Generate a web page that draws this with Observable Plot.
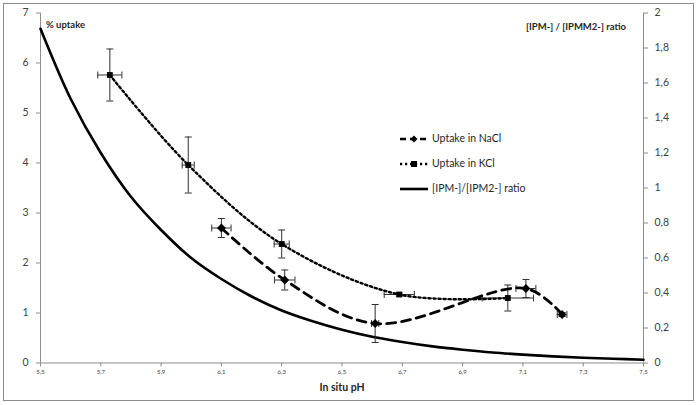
<!DOCTYPE html>
<html>
<head>
<meta charset="utf-8">
<script src="https://cdn.jsdelivr.net/npm/d3@7"></script>
<script src="https://cdn.jsdelivr.net/npm/@observablehq/plot@0.6"></script>
<style>
  html, body { margin: 0; padding: 0; background: #fff; }
  #wrap { position: relative; width: 698px; height: 405px; font-family: Lato, "Open Sans", sans-serif; color: #262626; }
  #wrap svg { position: absolute; left: 0; top: 0; }
  .border { position: absolute; left: 3px; top: 3px; width: 691px; height: 398px; border: 1px solid #8c8c8c; box-sizing: border-box; pointer-events: none; }
  .lbl { position: absolute; font-weight: bold; white-space: nowrap; line-height: 1; }
  .legend { position: absolute; left: 400px; top: 126px; font-size: 10.5px; line-height: 1; }
  .legend .row { display: flex; align-items: center; height: 25px; }
  .legend svg { position: static !important; margin-right: 4px; }
</style>
</head>
<body>
<div id="wrap">
  <div class="border"></div>
  <div class="lbl" style="left:46px; top:20px; font-size:9.5px;">% uptake</div>
  <div class="lbl" style="right:72px; top:22px; font-size:9.5px;">[IPM-] / [IPMM2-] ratio</div>
  <div class="lbl" style="left:342px; top:382px; font-size:10.5px; transform:translateX(-50%);">In situ pH</div>
  <div class="legend" id="legend"></div>
</div>
<script>
// ---- data ----
const naclPH     = [6.10, 6.31, 6.61, 7.11, 7.23];
const naclUptake = [2.70, 1.66, 0.79, 1.49, 0.97];
const naclErrY   = [0.19, 0.20, 0.38, 0.18, 0.04];
const naclErrX   = [0.032, 0.034, 0.012, 0.033, 0.016];

const kclPH      = [5.73, 5.99, 6.30, 6.69, 7.05];
const kclUptake  = [5.76, 3.96, 2.38, 1.37, 1.30];
const kclErrY    = [0.52, 0.56, 0.28, 0.03, 0.26];
const kclErrX    = [0.040, 0.020, 0.025, 0.050, 0.085];

const ratioPH    = [5.5, 5.6, 5.7, 5.8, 5.9, 6.0, 6.1, 6.2, 6.3, 6.4, 6.5, 6.6, 6.7, 6.8, 6.9, 7.0, 7.1, 7.2, 7.3, 7.4, 7.5];
const ratioValue = [1.91, 1.51, 1.20, 0.95, 0.76, 0.60, 0.48, 0.38, 0.30, 0.24, 0.19, 0.15, 0.12, 0.095, 0.076, 0.060, 0.048, 0.038, 0.030, 0.024, 0.019];

const xDomain    = [5.5, 7.5];
const xTicks     = [5.5, 5.7, 5.9, 6.1, 6.3, 6.5, 6.7, 6.9, 7.1, 7.3, 7.5];
const yDomain    = [0, 7];
const yTicks     = [0, 1, 2, 3, 4, 5, 6, 7];
const rDomain    = [0, 2];
const rTicks     = [0, 0.2, 0.4, 0.6, 0.8, 1, 1.2, 1.4, 1.6, 1.8, 2];

const legendItems = ["Uptake in NaCl", "Uptake in KCl", "[IPM-]/[IPM2-] ratio"];

// ---- build ----
const k = yDomain[1] / rDomain[1];
const comma = d => d3.format(".1~f")(d).replace(".", ",");

const nacl = naclPH.map((p, i) => ({ph: p, u: naclUptake[i], ey: naclErrY[i], ex: naclErrX[i]}));
const kcl  = kclPH.map((p, i) => ({ph: p, u: kclUptake[i], ey: kclErrY[i], ex: kclErrX[i]}));
const ratio = ratioPH.map((p, i) => ({ph: p, r: ratioValue[i] * k}));

const capH = {draw(ctx, size) { const r = Math.sqrt(size / Math.PI); ctx.moveTo(-r, 0); ctx.lineTo(r, 0); }};
const capV = {draw(ctx, size) { const r = Math.sqrt(size / Math.PI); ctx.moveTo(0, -r); ctx.lineTo(0, r); }};

const errColor = "#303030";
function errMarks(data) {
  return [
    Plot.ruleX(data, {x: "ph", y1: d => d.u - d.ey, y2: d => d.u + d.ey, stroke: errColor, strokeWidth: 1}),
    Plot.ruleY(data, {y: "u", x1: d => d.ph - d.ex, x2: d => d.ph + d.ex, stroke: errColor, strokeWidth: 1}),
    Plot.dot(data, {x: "ph", y: d => d.u + d.ey, symbol: capH, r: 3.5, stroke: errColor, fill: "none", strokeWidth: 1}),
    Plot.dot(data, {x: "ph", y: d => d.u - d.ey, symbol: capH, r: 3.5, stroke: errColor, fill: "none", strokeWidth: 1}),
    Plot.dot(data, {x: d => d.ph + d.ex, y: "u", symbol: capV, r: 3.5, stroke: errColor, fill: "none", strokeWidth: 1}),
    Plot.dot(data, {x: d => d.ph - d.ex, y: "u", symbol: capV, r: 3.5, stroke: errColor, fill: "none", strokeWidth: 1})
  ];
}

const chart = Plot.plot({
  width: 698,
  height: 405,
  marginLeft: 40,
  marginRight: 55,
  marginTop: 12.5,
  marginBottom: 42.5,
  style: {fontFamily: "Lato, 'Open Sans', sans-serif", background: "transparent", color: "#404040"},
  x: {domain: xDomain},
  y: {domain: yDomain},
  marks: [
    Plot.ruleX([xDomain[0]], {stroke: "#8c8c8c"}),
    Plot.ruleX([xDomain[1]], {stroke: "#8c8c8c"}),
    Plot.ruleY([yDomain[0]], {stroke: "#8c8c8c"}),
    Plot.axisY({ticks: yTicks, tickFormat: d3.format("d"), tickSize: 4, tickPadding: 8, fontSize: 10.5, label: null, stroke: "#8c8c8c"}),
    Plot.axisY({anchor: "right", ticks: rTicks.map(v => v * k), tickFormat: d => comma(d / k), tickSize: 4, tickPadding: 7, fontSize: 10.5, label: null, stroke: "#8c8c8c"}),
    Plot.axisX({ticks: xTicks, tickFormat: comma, tickSize: 4, tickPadding: 3, fontSize: 6, label: null, stroke: "#8c8c8c"}),
    Plot.line(ratio, {x: "ph", y: "r", stroke: "#000", strokeWidth: 2.6, curve: "catmull-rom"}),
    ...errMarks(kcl),
    ...errMarks(nacl),
    Plot.line(kcl, {x: "ph", y: "u", stroke: "#000", strokeWidth: 2.4, strokeDasharray: "2.2,2.8", curve: "catmull-rom"}),
    Plot.line(nacl, {x: "ph", y: "u", stroke: "#000", strokeWidth: 2.8, strokeDasharray: "9,6", curve: "catmull-rom"}),
    Plot.dot(kcl, {x: "ph", y: "u", symbol: "square", r: 3.3, fill: "#000"}),
    Plot.dot(nacl, {x: "ph", y: "u", symbol: "diamond2", r: 4, fill: "#000"})
  ]
});
document.getElementById("wrap").prepend(chart);

// ---- legend ----
const styles = [
  {dash: "6,4", w: 2.6, sym: "diamond"},
  {dash: "2.2,2.8", w: 2.4, sym: "square"},
  {dash: null, w: 2.6, sym: null}
];
const leg = document.getElementById("legend");
legendItems.forEach((t, i) => {
  const s = styles[i];
  const row = document.createElement("div");
  row.className = "row";
  let sym = "";
  if (s.sym === "diamond") sym = '<path d="M14,2.5 L17.5,6 L14,9.5 L10.5,6 Z" fill="#000"/>';
  if (s.sym === "square") sym = '<rect x="11" y="3" width="6" height="6" fill="#000"/>';
  row.innerHTML = `<svg width="28" height="12" viewBox="0 0 28 12"><line x1="0" y1="6" x2="28" y2="6" stroke="#000" stroke-width="${s.w}" ${s.dash ? `stroke-dasharray="${s.dash}"` : ""}/>${sym}</svg><span>${t}</span>`;
  leg.appendChild(row);
});
</script>
</body>
</html>
